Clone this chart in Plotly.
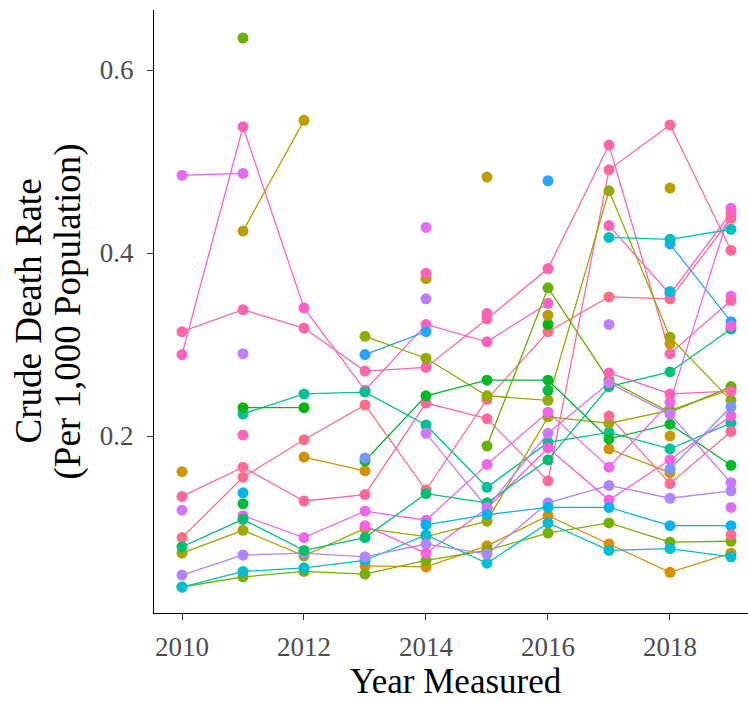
import math
import plotly.graph_objects as go

N = None
years = [2010, 2011, 2012, 2013, 2014, 2015, 2016, 2017, 2018, 2019]

# Crude death rate per 1,000 population, one list per group (None = not measured)
s01 = [0.485, 0.487, N, N, 0.428, N, N, N, N, 0.353]
s02 = [0.289, 0.538, 0.340, 0.250, 0.322, 0.303, 0.345, N, N, N]
s03 = [0.314, 0.338, 0.318, 0.271, 0.275, 0.328, 0.383, 0.518, 0.290, 0.348]
s04 = [0.134, 0.166, 0.129, 0.136, 0.236, 0.219, 0.151, 0.491, 0.540, 0.403]
s05 = [0.089, 0.155, 0.196, 0.234, 0.141, 0.240, 0.314, 0.352, 0.350, 0.438]
s06 = [N, 0.224, 0.246, 0.248, 0.212, 0.144, 0.193, 0.204, 0.186, 0.214]
s07 = [N, 0.231, 0.231, N, N, N, 0.322, N, N, N]
s08 = [0.072, 0.097, 0.069, 0.099, 0.090, 0.107, 0.221, 0.214, 0.228, 0.251]
s09 = [N, N, N, 0.309, 0.285, 0.244, 0.239, 0.468, 0.308, 0.239]
s10 = [N, N, N, 0.289, 0.314, N, 0.479, N, 0.410, 0.325]
s11 = [N, 0.424, 0.545, N, 0.372, N, 0.332, N, 0.471, N]
s12 = [N, N, N, N, N, 0.483, N, N, 0.301, N]
s13 = [0.161, N, N, N, N, N, N, N, 0.200, N]
s14 = [N, N, 0.177, 0.162, N, N, N, 0.186, 0.160, N]
s15 = [N, N, N, 0.058, 0.057, 0.080, 0.113, 0.082, 0.051, 0.072]
s16 = [N, N, N, 0.173, 0.244, 0.261, 0.261, 0.197, 0.213, 0.168]
s17 = [N, 0.635, N, N, N, 0.189, 0.362, 0.261, 0.226, 0.254]
s18 = [0.035, 0.046, 0.052, 0.049, 0.064, 0.075, 0.094, 0.105, 0.084, 0.085]
s19 = [0.035, 0.052, 0.056, 0.064, 0.092, 0.061, 0.105, 0.075, 0.077, 0.068]
s20 = [0.048, 0.070, 0.072, 0.068, 0.082, 0.071, 0.127, 0.146, 0.132, 0.140]
s21 = [N, 0.113, 0.089, 0.118, 0.108, 0.169, 0.226, 0.166, 0.237, 0.449]
s22 = [N, N, N, 0.102, 0.072, 0.121, 0.187, 0.130, 0.174, 0.222]
s23 = [0.079, 0.109, 0.075, 0.089, 0.137, 0.127, 0.174, 0.254, 0.270, 0.317]
s24 = [0.119, N, N, N, 0.203, 0.122, 0.203, 0.258, 0.224, 0.149]
s25 = [N, N, N, N, N, N, N, 0.417, 0.415, 0.426]
s26 = [N, 0.138, N, N, 0.103, 0.114, 0.122, 0.122, 0.102, 0.102]
s27 = [N, N, N, 0.176, N, N, N, N, 0.164, 0.232]
s28 = [N, 0.290, N, N, 0.350, N, N, 0.322, N, N]
s29 = [N, 0.201, N, N, 0.378, N, N, 0.430, 0.355, 0.444]
s30 = [N, N, N, N, N, 0.334, N, 0.269, 0.246, 0.249]
s31 = [N, N, N, N, N, N, N, 0.222, 0.148, 0.205]
s32 = [N, N, N, N, N, N, N, N, N, 0.320]
s33 = [N, N, N, N, N, N, N, N, N, 0.122]
s34 = [N, N, N, N, N, N, N, N, N, 0.092]
s35 = [N, 0.126, N, N, N, N, 0.250, N, N, N]
s36 = [N, N, N, N, N, N, N, N, 0.358, N]

y_ticks = [0.2, 0.4, 0.6]
y_labels = ["0.2", "0.4", "0.6"]
x_ticks = [2010, 2012, 2014, 2016, 2018]
x_labels = ["2010", "2012", "2014", "2016", "2018"]

series = [s01, s02, s03, s04, s05, s06, s07, s08, s09, s10, s11, s12,
          s13, s14, s15, s16, s17, s18, s19, s20, s21, s22, s23, s24,
          s25, s26, s27, s28, s29, s30, s31, s32, s33, s34, s35, s36]
# ggplot-style hue for each group (styling)
hues = [300, 335, 348, 355, 5, 170, 128, 88, 95, 248, 72, 68,
        62, 55, 50, 132, 112, 108, 200, 275, 310, 320, 155, 290,
        192, 225, 260, 282, 340, 343, 358, 318, 298, 0, 135, 205]


def hcl(h, c=100.0, l=65.0):
    xn, yn, zn = 95.047, 100.0, 108.883
    un = 4 * xn / (xn + 15 * yn + 3 * zn)
    vn = 9 * yn / (xn + 15 * yn + 3 * zn)
    hr = math.radians(h)
    u, v = c * math.cos(hr), c * math.sin(hr)
    Y = yn * ((l + 16) / 116) ** 3
    up = u / (13 * l) + un
    vp = v / (13 * l) + vn
    X = 9.0 * Y * up / (4 * vp)
    Z = -X / 3 - 5 * Y + 3 * Y / vp
    X, Y, Z = X / 100, Y / 100, Z / 100
    r = 3.240479 * X - 1.537150 * Y - 0.498535 * Z
    g = -0.969256 * X + 1.875992 * Y + 0.041556 * Z
    b = 0.055648 * X - 0.204043 * Y + 1.057311 * Z

    def gam(t):
        t = 12.92 * t if t <= 0.0031308 else 1.055 * (max(t, 0) ** (1 / 2.4)) - 0.055
        return int(round(min(max(t, 0), 1) * 255))
    return "#%02X%02X%02X" % (gam(r), gam(g), gam(b))


fig = go.Figure()
# lines first (like ggplot's geom_line layer) ...
for vals, h in zip(series, hues):
    fig.add_trace(go.Scatter(x=years, y=vals, mode="lines",
                             line=dict(color=hcl(h), width=1.3),
                             connectgaps=False, showlegend=False, hoverinfo="skip"))
# ... then points on top
for vals, h in zip(series, hues):
    fig.add_trace(go.Scatter(x=years, y=vals, mode="markers",
                             marker=dict(color=hcl(h), size=11, line=dict(width=0)),
                             showlegend=False))

FONT = "Liberation Serif"
L, R, T, B = 154, 0, 10, 89
W, H = 748, 702
pw, ph = W - L - R, H - T - B

fig.update_layout(
    width=W, height=H, autosize=False,
    margin=dict(l=L, r=R, t=T, b=B, pad=0),
    paper_bgcolor="white", plot_bgcolor="white",
    font=dict(family=FONT),
    xaxis=dict(range=[2009.541, 2019.279], tickvals=x_ticks, ticktext=x_labels,
               showgrid=False, zeroline=False, showline=True, linecolor="black",
               linewidth=1.2, ticks="outside", ticklen=6, tickwidth=1.1,
               tickcolor="#333333", ticklabelstandoff=3,
               tickfont=dict(family=FONT, size=27, color="#4D4D4D")),
    yaxis=dict(range=[0.0066, 0.6656], tickvals=y_ticks, ticktext=y_labels,
               showgrid=False, zeroline=False, showline=True, linecolor="black",
               linewidth=1.2, ticks="outside", ticklen=6, tickwidth=1.1,
               tickcolor="#333333", ticklabelstandoff=8,
               tickfont=dict(family=FONT, size=27, color="#4D4D4D")),
)

fig.add_annotation(text="Year Measured", xref="paper", yref="paper",
                   x=(456 - L) / pw, y=(H - B - 681) / ph, xanchor="center",
                   yanchor="middle", borderpad=0, showarrow=False,
                   font=dict(family=FONT, size=35, color="black"))
fig.add_annotation(text="Crude Death Rate", xref="paper", yref="paper",
                   x=(28 - L) / pw, y=0.5, xanchor="center", yanchor="middle",
                   textangle=-90, showarrow=False,
                   font=dict(family=FONT, size=37, color="black"))
fig.add_annotation(text="(Per 1,000 Population)", xref="paper", yref="paper",
                   x=(67 - L) / pw, y=0.5, xanchor="center", yanchor="middle",
                   textangle=-90, showarrow=False,
                   font=dict(family=FONT, size=37, color="black"))

fig.write_html("out.html",
               config={"displayModeBar": False},
               post_script="document.body.style.margin='0px';"
                           "document.body.style.overflow='hidden';")
